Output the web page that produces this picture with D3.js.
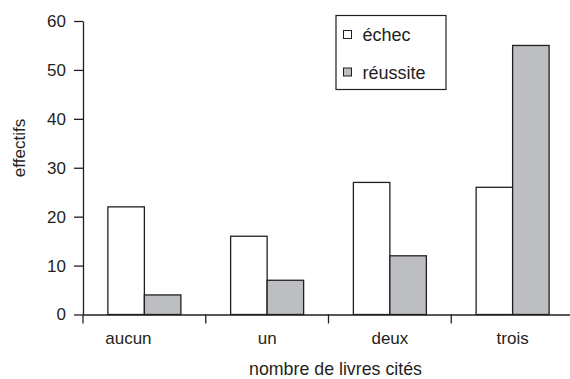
<!DOCTYPE html>
<html><head><meta charset="utf-8">
<script src="https://cdn.jsdelivr.net/npm/d3@7"></script>
<style>body{margin:0;background:#fff}svg{display:block}text{font-family:"Liberation Sans",Arial,sans-serif;fill:#231f20}</style>
</head><body><svg id="c" width="570" height="379"></svg>
<script>
const categories = ["aucun", "un", "deux", "trois"];
const seriesNames = ["échec", "réussite"];
const echec = [22, 16, 27, 26];
const reussite = [4, 7, 12, 55];
const yTicks = [0, 10, 20, 30, 40, 50, 60];
const colors = ["#ffffff", "#bdbec2"];

const svg = d3.select("#c");
const ink = "#231f20";
const x = d3.scaleBand().domain(categories).range([83, 574]);
const y = d3.scaleLinear().domain([0, 60]).range([314.5, 21]);
const data = categories.map((c, i) => ({c, v: [echec[i], reussite[i]]}));
const barW = 36.5;

// bars
const g = svg.append("g");
data.forEach(d => {
  d.v.forEach((v, j) => {
    const cx = x(d.c) + x.bandwidth() / 2;
    g.append("rect")
      .attr("x", cx - barW + j * barW)
      .attr("y", y(v))
      .attr("width", barW)
      .attr("height", y(0) - y(v))
      .attr("fill", colors[j])
      .attr("stroke", ink)
      .attr("stroke-width", 1.3);
  });
});

// y axis
const ya = svg.append("g").attr("transform", "translate(83,0)")
  .call(d3.axisLeft(y).tickValues(yTicks).tickSize(9).tickPadding(8).tickSizeOuter(0));
ya.attr("font-family", null).attr("font-size", null);
ya.select(".domain").attr("stroke", ink).attr("stroke-width", 1.3);
ya.selectAll(".tick line").attr("stroke", ink).attr("stroke-width", 1.3);
ya.selectAll("text").style("font-size", "17px").attr("fill", ink);

// x axis
const xa = svg.append("g").attr("transform", `translate(0,${y(0)})`)
  .call(d3.axisBottom(x).tickSize(0).tickPadding(17).tickSizeOuter(0));
xa.attr("font-family", null).attr("font-size", null);
xa.select(".domain").attr("stroke", ink).attr("stroke-width", 1.3);
xa.selectAll("text").style("font-size", "17px").attr("fill", ink)
  .attr("dx", (d, i) => i === 0 ? -16 : 0);
// tick marks at band boundaries
xa.selectAll(".bound").data(categories).enter().append("line")
  .attr("x1", d => x(d)).attr("x2", d => x(d))
  .attr("y1", 0).attr("y2", 9)
  .attr("stroke", ink).attr("stroke-width", 1.3);

// axis titles
svg.append("text").attr("x", 335.5).attr("y", 375).attr("text-anchor", "middle")
  .style("font-size", "17.8px").text("nombre de livres cités");
svg.append("text").attr("transform", "translate(24.5,148) rotate(-90)").attr("text-anchor", "middle")
  .style("font-size", "17px").text("effectifs");

// legend
const lg = svg.append("g");
lg.append("rect").attr("x", 336).attr("y", 15.5).attr("width", 110).attr("height", 74)
  .attr("fill", "#fff").attr("stroke", ink).attr("stroke-width", 1.2);
seriesNames.forEach((s, i) => {
  lg.append("rect").attr("x", 343.5).attr("y", 30.5 + i * 37.5).attr("width", 8).attr("height", 8)
    .attr("fill", colors[i]).attr("stroke", ink).attr("stroke-width", 1);
  lg.append("text").attr("x", 362.5).attr("y", 41 + i * 38).style("font-size", "18px").text(s);
});
</script></body></html>
